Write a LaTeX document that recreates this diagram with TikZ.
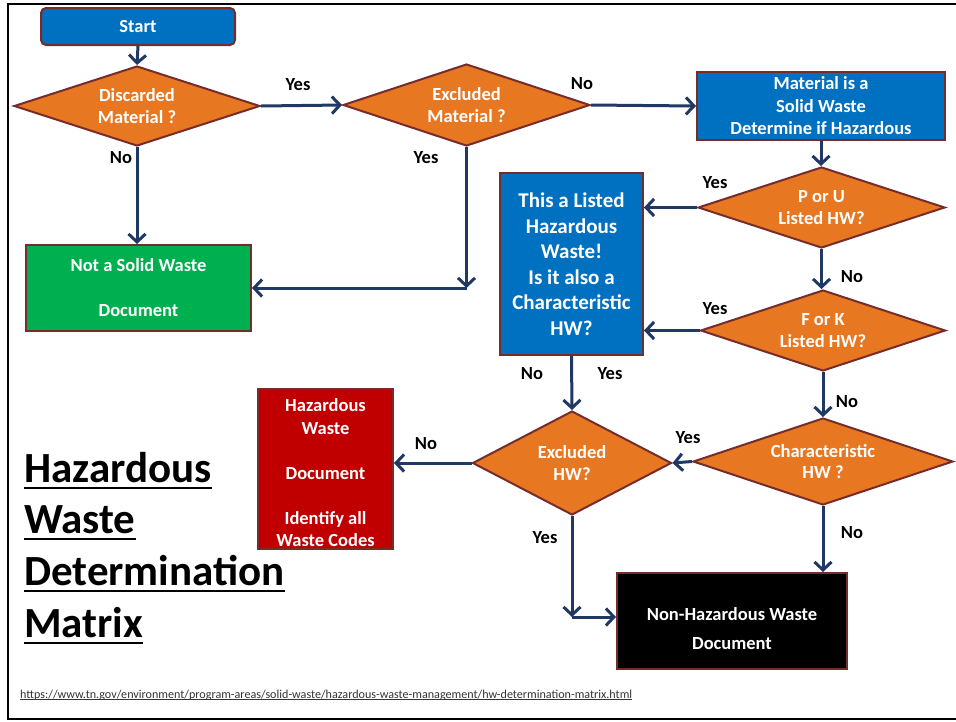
\documentclass[tikz,border=0pt]{standalone}
\usepackage{fontspec}
\setmainfont{Carlito}
\usetikzlibrary{shapes.geometric,arrows.meta,calc}
\definecolor{cblue}{HTML}{0070C0}
\definecolor{corange}{HTML}{E87722}
\definecolor{cgreen}{HTML}{00B050}
\definecolor{cred}{HTML}{C00000}
\definecolor{cborder}{HTML}{772C2C}
\definecolor{carrow}{HTML}{1F3864}
\definecolor{curl}{HTML}{333333}
\tikzset{
  boxbase/.style={draw=cborder, line width=2pt, text=white, align=center, inner sep=0pt,
    font=\fontsize{18.5}{22.5}\selectfont\bfseries},
  dia/.style={diamond, aspect=3, draw=cborder, line width=2pt, fill=corange, text=white,
    align=center, inner sep=0pt, font=\fontsize{18.5}{21.5}\selectfont\bfseries},
  arr/.style={draw=carrow, line width=3pt, -{Straight Barb[length=8pt,width=17pt,line width=3pt]}},
  lab/.style={font=\fontsize{18.5}{20}\selectfont\bfseries, text=black, inner sep=0pt},
  ttl/.style={font=\fontsize{43}{46}\selectfont\bfseries, anchor=base west, inner sep=0pt},
}
\begin{document}
\begin{tikzpicture}[x=1pt,y=-1pt]
\useasboundingbox (0,0) rectangle (956,721);
% frame
\draw[line width=2.5pt] (956,4) -- (8,4) -- (8,719) -- (956,719);
% nodes
\node[boxbase, fill=cblue, rounded corners=5pt, minimum width=194pt, minimum height=37pt] (start) at (138,26.5) {Start};
\node[dia, minimum width=246pt, minimum height=80pt] (disc) at (137,106) {Discarded\\Material ?};
\node[dia, minimum width=247pt, minimum height=82pt] (exm) at (466.5,105) {Excluded\\Material ?};
\node[boxbase, fill=cblue, minimum width=248pt, minimum height=68pt] (sw) at (821,106) {Material is a\\Solid Waste\\Determine if Hazardous};
\node[dia, minimum width=247pt, minimum height=81pt] (pu) at (821.5,207.5) {P or U\\Listed HW?};
\node[dia, minimum width=245pt, minimum height=81pt] (fk) at (823,330.5) {F or K\\Listed HW?};
\node[boxbase, fill=cblue, minimum width=143pt, minimum height=182pt, font=\fontsize{21}{25.5}\selectfont\bfseries] (listed) at (571.5,264) {This a Listed\\Hazardous\\Waste!\\Is it also a\\Characteristic\\HW?};
\node[dia, minimum width=260pt, minimum height=87pt] (char) at (823,461.5) {Characteristic\\HW ?};
\node[dia, minimum width=199pt, minimum height=104pt] (exhw) at (572,463) {Excluded\\HW?};
\node[boxbase, fill=cred, minimum width=135pt, minimum height=160pt] (haz) at (325.5,469) {\rule{0pt}{21pt}Hazardous\\Waste\\[22.5pt]Document\\[22.5pt]Identify all\\Waste Codes};
\node[boxbase, fill=cgreen, minimum width=225pt, minimum height=86pt] (notsw) at (138.5,288) {Not a Solid Waste\\[22.5pt]Document};
\node[boxbase, fill=black, minimum width=230pt, minimum height=96pt, font=\fontsize{18.5}{29}\selectfont\bfseries] (nonhaz) at (732,621) {\rule{0pt}{29pt}Non-Hazardous Waste\\Document};
% connectors
\draw[arr] (start.south) -- (disc.north);
\draw[arr] (disc.east) -- (exm.west);
\draw[arr] (exm.east) -- (sw.west);
\draw[arr] (sw.south) -- (sw.south |- pu.north);
\draw[arr] (pu.west) -- (pu.west -| listed.east);
\draw[arr] (pu.south) -- (pu.south |- fk.north);
\draw[arr] (fk.west) -- (fk.west -| listed.east);
\draw[arr] (fk.south) -- (fk.south |- char.north);
\draw[arr] (char.west) -- (exhw.east);
\draw[arr] (listed.south) -- (exhw.north);
\draw[arr] (exhw.west) -- (exhw.west -| haz.east);
\coordinate (c1) at (exhw.south |- 0,617);
\draw[arr] (exhw.south) -- (c1);
\draw[arr] (c1) -- (c1 -| nonhaz.west);
\draw[arr] (char.south) -- (char.south |- nonhaz.north);
\draw[arr] (disc.south) -- (disc.south |- notsw.north);
\coordinate (c2) at (exm.south |- notsw.east);
\draw[arr] (exm.south) -- (c2);
\draw[arr] (c2) -- (notsw.east);
% labels
\node[lab] (l1) at (298,85) {Yes};
\node[lab] (l2) at (582,84) {No};
\node[lab] (l3) at (715,183) {Yes};
\node[lab] (l4) at (852,277) {No};
\node[lab] (l5) at (715,309) {Yes};
\node[lab] (l6) at (847,402) {No};
\node[lab] (l7) at (688,438) {Yes};
\node[lab] (l8) at (532,374) {No};
\node[lab] (l9) at (610,374) {Yes};
\node[lab] (l10) at (426,444) {No};
\node[lab] (l11) at (545,538) {Yes};
\node[lab] (l12) at (852,533) {No};
\node[lab] (l13) at (121,158) {No};
\node[lab] (l14) at (426,158) {Yes};
% title
\node[ttl] (t1) at (24,482) {Hazardous};
\node[ttl] (t2) at (24,533) {Waste};
\node[ttl] (t3) at (24,585) {Determination};
\node[ttl] (t4) at (24,637) {Matrix};
\foreach \t in {t1,t2,t3,t4}{
  \draw[line width=2.6pt] ($(\t.base west)+(0,6)$) -- ($(\t.base east)+(0,6)$);
}
% url
\node[font=\fontsize{12.1}{14}\selectfont, text=curl, anchor=base west, inner sep=0pt] (url) at (20,698) {https://www.tn.gov/environment/program-areas/solid-waste/hazardous-waste-management/hw-determination-matrix.html};
\draw[curl, line width=0.7pt] ($(url.base west)+(0,1.8)$) -- ($(url.base east)+(0,1.8)$);
\end{tikzpicture}
\end{document}
